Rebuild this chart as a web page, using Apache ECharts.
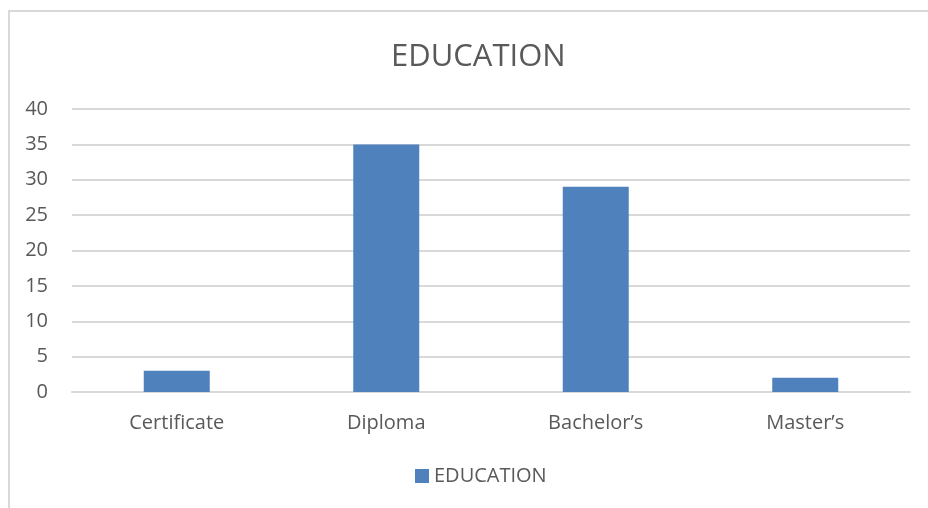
<!DOCTYPE html>
<html>
<head>
    <meta charset="utf-8">
    <script src="https://cdn.jsdelivr.net/npm/echarts@6/dist/echarts.min.js"></script>
    <style>
        html, body { margin: 0; padding: 0; background: #fff; }
        #frame {
            position: absolute; left: 8px; top: 10px; width: 940px; height: 520px;
            border: 2px solid #d9d9d9; box-sizing: border-box;
        }
        #main { position: absolute; left: 0; top: 0; width: 928px; height: 508px; }
    </style>
</head>
<body>
    <div id="frame"></div>
    <div id="main"></div>
    <script>
        var categories = ['Certificate', 'Diploma', 'Bachelor\u2019s', 'Master\u2019s'];
        var education = [3, 35, 29, 2];
        var seriesName = 'EDUCATION';

        var chart = echarts.init(document.getElementById('main'));
        var textColor = '#595959';
        var fontFamily = 'Open Sans, Noto Sans, sans-serif';

        chart.setOption({
            animation: false,
            title: {
                text: 'EDUCATION',
                left: 386,
                top: 37,
                textStyle: { color: textColor, fontSize: 31, fontWeight: 'normal', fontFamily: fontFamily }
            },
            legend: {
                data: [seriesName],
                bottom: 17,
                left: 410,
                icon: 'rect',
                itemWidth: 14,
                itemHeight: 14,
                itemGap: 6,
                textStyle: { color: textColor, fontSize: 20, fontFamily: fontFamily }
            },
            grid: { left: 72, right: 18, top: 109, bottom: 116 },
            xAxis: {
                type: 'category',
                data: categories,
                axisLine: { lineStyle: { color: '#d9d9d9', width: 2 } },
                axisTick: { show: false },
                axisLabel: { color: textColor, fontSize: 20, margin: 21, fontFamily: fontFamily }
            },
            yAxis: {
                type: 'value',
                min: 0,
                max: 40,
                interval: 5,
                axisLine: { show: false },
                axisTick: { show: false },
                splitLine: { lineStyle: { color: '#d9d9d9', width: 2 } },
                axisLabel: { color: textColor, fontSize: 20, margin: 24, fontFamily: fontFamily }
            },
            series: [{
                name: seriesName,
                type: 'bar',
                data: education,
                barWidth: '31.5%',
                itemStyle: { color: '#4f81bd' }
            }]
        });
    </script>
</body>
</html>
